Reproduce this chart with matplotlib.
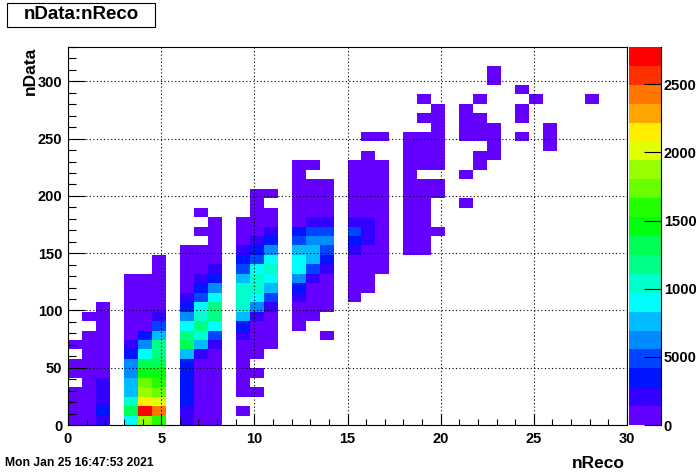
import numpy as np
import matplotlib
matplotlib.use("Agg")
import matplotlib.pyplot as plt
from matplotlib.colors import ListedColormap, BoundaryNorm
from matplotlib.patches import Rectangle
from matplotlib.ticker import MultipleLocator
from matplotlib.cm import ScalarMappable
import colorsys

plt.rcParams['font.family'] = ['Liberation Sans', 'DejaVu Sans']
plt.rcParams['font.weight'] = 'bold'

# ---------------- data ----------------
# nReco takes integer values 0..29; histogram has 40 bins on [0,30] in x, 40 bins on [0,330] in y
nreco_values = list(range(30))
x_range = (0, 30)
y_range = (0, 330)
n_xbins = 40
n_ybins = 40

# first nData bin index that each column's list starts at
first_bin = [0, 0, 0, 0, 0, 0, 0, 0, 0, 1,
             3, 8, 10, 11, 9, 13, 14, 16, 18, 18,
             20, 23, 27, 28, 30, 34, 29, 0, 34, 0]

# counts per nData bin (from first_bin upward) for each nReco value
cell_counts = [
    [900, 700, 500, 300, 0, 150, 120, 0, 40],
    [1200, 1100, 1000, 900, 800, 700, 550, 400, 300, 200, 0, 60],
    [2100, 3300, 2300, 2000, 1600, 1300, 1100, 900, 700, 500, 350, 200, 80],
    [9000, 13200, 10400, 7600, 7400, 6200, 6000, 3400, 2000, 1100, 900, 700, 500, 350, 200, 100],
    [18700, 27740, 21500, 18700, 17300, 14600, 13200, 9000, 6200, 3400, 1300, 1000, 800, 600, 400, 200],
    [16000, 24300, 20100, 17300, 16000, 14600, 13200, 11800, 11600, 7600, 4800, 2000, 1200, 900, 700, 500, 300, 150],
    [2100, 2300, 3000, 3300, 3500, 3600, 3800, 7600, 13200, 11800, 9000, 6200, 3400, 2000, 1200, 900, 600, 400, 150],
    [600, 700, 800, 900, 1000, 1100, 1300, 2000, 7600, 10400, 11800, 10400, 9000, 4800, 3400, 2000, 1200, 800, 500, 0, 200, 0, 80],
    [500, 600, 700, 800, 900, 1000, 1100, 1300, 2000, 4800, 9000, 11800, 11800, 9000, 6200, 3400, 2000, 1200, 800, 500, 300, 100],
    [30, 0, 60, 100, 150, 250, 400, 700, 2000, 3400, 7600, 10400, 10400, 10200, 7600, 4800, 3400, 2000, 1000, 500, 200],
    [40, 0, 60, 0, 150, 300, 600, 1000, 2000, 6200, 9000, 10400, 10400, 9000, 4800, 3400, 2000, 1200, 700, 400, 200, 80],
    [100, 300, 600, 1000, 2000, 4800, 7600, 9000, 10400, 9000, 6200, 3400, 2000, 1000, 500, 0, 100],
    [100, 300, 800, 2000, 3400, 6200, 9000, 9000, 7600, 4800, 3400, 1200, 800, 500, 300, 200, 100, 60],
    [100, 400, 800, 1200, 2000, 4800, 7600, 7600, 6200, 4800, 2000, 1000, 600, 300, 150, 0, 50],
    [30, 0, 0, 200, 500, 900, 1300, 2000, 3400, 4800, 6200, 4800, 2000, 900, 500, 250, 100],
    [100, 300, 600, 900, 1300, 2000, 3400, 4800, 2000, 1200, 700, 400, 250, 150, 60],
    [150, 400, 700, 1000, 1300, 2000, 2200, 1800, 1100, 700, 400, 250, 150, 80, 40, 0, 30],
    [200, 400, 600, 800, 1000, 900, 700, 500, 300, 200, 100, 60, 0, 0, 30],
    [200, 400, 600, 800, 900, 700, 500, 400, 200, 150, 100, 60, 30],
    [100, 300, 500, 700, 800, 600, 400, 300, 0, 150, 100, 60, 40, 0, 20, 0, 10],
    [50, 0, 0, 0, 150, 120, 0, 200, 150, 100, 80, 50, 30, 20],
    [20, 0, 0, 40, 0, 0, 0, 60, 50, 30, 20],
    [40, 50, 0, 60, 50, 30, 0, 10],
    [30, 40, 50, 40, 0, 0, 0, 0, 10, 10],
    [20, 0, 20, 20, 0, 10],
    [10],
    [20, 20, 10],
    [],
    [10],
    [],
]

x_ticks = [0, 5, 10, 15, 20, 25, 30]
y_ticks = [0, 50, 100, 150, 200, 250, 300]
z_ticks = [0, 5000, 10000, 15000, 20000, 25000]
title_text = "nData:nReco"
x_title = "nReco"
y_title = "nData"
date_text = "Mon Jan 25 16:47:53 2021"

# ---------------- build histogram ----------------
x_edges = np.linspace(x_range[0], x_range[1], n_xbins + 1)
y_edges = np.linspace(y_range[0], y_range[1], n_ybins + 1)
H = np.zeros((n_xbins, n_ybins))
x_width = (x_range[1] - x_range[0]) / n_xbins
for n, start, vals in zip(nreco_values, first_bin, cell_counts):
    b = int(np.floor(n / x_width + 1e-9))
    for j, v in enumerate(vals):
        H[b, start + j] += v
Hm = np.ma.masked_less_equal(H, 0)

# ROOT "pretty" palette with 20 contour levels
n_levels = 20
cols = []
for k in range(n_levels):
    idx = int((k + 0.99) * 50 / n_levels)
    hue = 280.0 - (idx + 1) * 280.0 / 50
    cols.append(colorsys.hls_to_rgb(hue / 360.0, 0.5, 1.0))
cmap = ListedColormap(cols)
cmap.set_over(cols[-1])
zmax = H.max()
norm = BoundaryNorm(np.linspace(0, zmax, n_levels + 1), n_levels)

# ---------------- figure ----------------
W, Hpx = 696, 473
fig = plt.figure(figsize=(W / 100, Hpx / 100), dpi=100)
fig.patch.set_facecolor('white')

def fx(px):
    return px / W

def fy(py):
    return 1 - py / Hpx

L, R, T, B = 68, 627, 47, 425
ax = fig.add_axes([fx(L), fy(B), fx(R - L), (B - T) / Hpx])
ax.pcolormesh(x_edges, y_edges, Hm.T, cmap=cmap, norm=norm, shading='flat')
ax.set_xlim(*x_range)
ax.set_ylim(*y_range)
ax.set_xticks(x_ticks)
ax.set_yticks(y_ticks)
ax.xaxis.set_minor_locator(MultipleLocator(1))
ax.yaxis.set_minor_locator(MultipleLocator(10))
ax.tick_params(axis='x', which='major', direction='in', length=8.1, width=0.8,
               labelsize=10.5, pad=5)
ax.tick_params(axis='x', which='minor', direction='in', length=4.1, width=0.8)
ax.tick_params(axis='y', which='major', direction='in', length=12.1, width=0.8,
               labelsize=10.5, pad=4)
ax.tick_params(axis='y', which='minor', direction='in', length=6, width=0.8)
ax.set_axisbelow(False)
ax.grid(True, which='major', color='black', linestyle=(0, (1, 2.2)), linewidth=0.8)
for s in ax.spines.values():
    s.set_linewidth(0.8)
for lab in ax.get_xticklabels() + ax.get_yticklabels():
    lab.set_fontweight('bold')

# colorbar
cax = fig.add_axes([fx(629), fy(B), fx(661 - 629), (B - T) / Hpx])
sm = ScalarMappable(norm=norm, cmap=cmap)
cb = fig.colorbar(sm, cax=cax, ticks=z_ticks)
cb.outline.set_visible(False)
cb.minorticks_off()
cax.tick_params(direction='in', length=12, width=0.8, labelsize=10.5, pad=2)
cax.plot([1, 1], [0, 1], transform=cax.transAxes, color='black', lw=0.8, clip_on=False)
for lab in cax.get_yticklabels():
    lab.set_fontweight('bold')

# titles
fig.text(fx(625), fy(463), x_title, ha='right', va='center', fontsize=12.5, fontweight='bold')
fig.text(fx(30), fy(47), y_title, ha='center', va='top', rotation=90, fontsize=12.5, fontweight='bold')
fig.patches.append(Rectangle((fx(7), fy(27)), fx(148), 24 / Hpx, transform=fig.transFigure,
                             facecolor='white', edgecolor='black', lw=0.8))
fig.text(fx(81), fy(14.5), title_text, ha='center', va='center', fontsize=13.5, fontweight='bold')
fig.text(fx(5), fy(463), date_text, ha='left', va='center', fontsize=8.7, fontweight='bold')

fig.savefig("out.png", dpi=100)
